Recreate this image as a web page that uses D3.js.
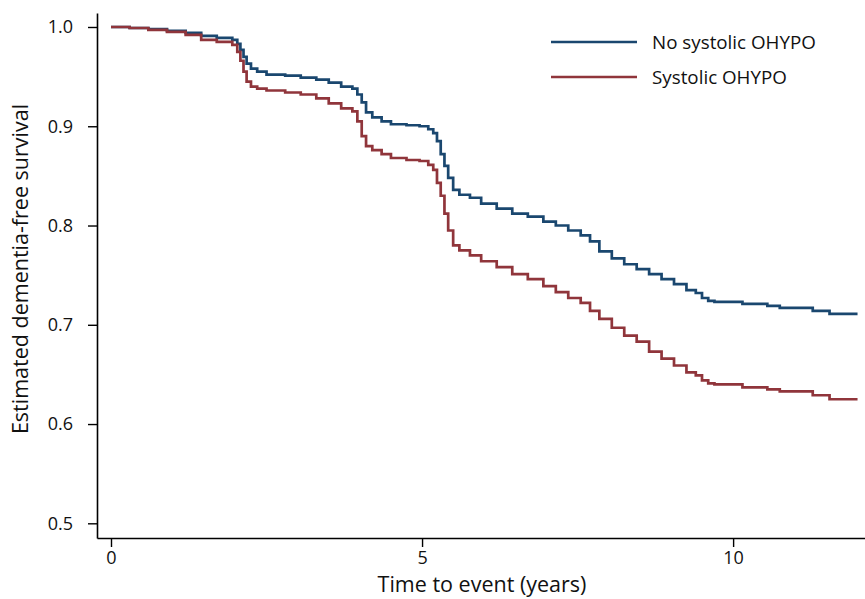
<!DOCTYPE html>
<html>
<head>
<meta charset="utf-8">
<script src="https://cdn.jsdelivr.net/npm/d3@7"></script>
<style>
  body { margin: 0; background: #fff; }
  svg { display: block; font-family: "Open Sans", "Noto Sans", sans-serif; }
</style>
</head>
<body>
<svg id="chart"></svg>
<script>
// Kaplan-Meier curves, dementia-free survival by systolic OHYPO
const width = 865;
const height = 599;

const seriesNames = ["No systolic OHYPO", "Systolic OHYPO"];
const seriesColors = ["#1a476f", "#90353b"];

// time (years) at each step, shared by both curves
const stepTimes = [
    0, 0.3, 0.6, 0.9, 1.2, 1.45, 1.7, 1.95, 2.03, 2.08,
    2.13, 2.18, 2.25, 2.35, 2.5, 2.8, 3.05, 3.3, 3.5, 3.7,
    3.88, 3.96, 4.03, 4.1, 4.2, 4.35, 4.5, 4.75, 4.96, 5.1,
    5.18, 5.24, 5.3, 5.36, 5.42, 5.5, 5.6, 5.77, 5.95, 6.2,
    6.45, 6.7, 6.95, 7.15, 7.35, 7.55, 7.7, 7.85, 8.05, 8.25,
    8.45, 8.65, 8.85, 9.05, 9.25, 9.4, 9.5, 9.6, 9.7, 10.15,
    10.55, 10.75, 11.28, 11.55, 12.0
];

const noOhypoSurvival = [
    1.000, 0.999, 0.998, 0.996, 0.994, 0.991, 0.989, 0.987, 0.983, 0.977,
    0.970, 0.963, 0.958, 0.955, 0.952, 0.951, 0.949, 0.947, 0.944, 0.940,
    0.938, 0.932, 0.924, 0.914, 0.909, 0.905, 0.902, 0.901, 0.900, 0.897,
    0.893, 0.885, 0.872, 0.860, 0.848, 0.836, 0.831, 0.828, 0.822, 0.817,
    0.812, 0.809, 0.804, 0.800, 0.795, 0.790, 0.784, 0.774, 0.767, 0.761,
    0.756, 0.751, 0.746, 0.741, 0.735, 0.732, 0.727, 0.724, 0.723, 0.721,
    0.719, 0.717, 0.714, 0.711, 0.711
];

const ohypoSurvival = [
    1.000, 0.999, 0.997, 0.995, 0.992, 0.987, 0.985, 0.982, 0.975, 0.966,
    0.955, 0.945, 0.940, 0.938, 0.936, 0.934, 0.932, 0.928, 0.923, 0.918,
    0.915, 0.905, 0.890, 0.880, 0.876, 0.872, 0.868, 0.866, 0.865, 0.861,
    0.856, 0.843, 0.830, 0.812, 0.795, 0.780, 0.775, 0.770, 0.764, 0.758,
    0.751, 0.746, 0.739, 0.733, 0.727, 0.722, 0.714, 0.706, 0.697, 0.689,
    0.683, 0.673, 0.666, 0.659, 0.652, 0.649, 0.644, 0.641, 0.640, 0.637,
    0.635, 0.633, 0.629, 0.625, 0.625
];

const xTicks = [0, 5, 10];
const yTicks = [0.5, 0.6, 0.7, 0.8, 0.9, 1.0];

const svg = d3.select("#chart")
    .attr("width", width)
    .attr("height", height);

const x = d3.scaleLinear().domain([-0.225, 12.12]).range([97, 865]);
const y = d3.scaleLinear().domain([0.4852, 1.0141]).range([538, 13]);

// axes
const xAxis = svg.append("g")
    .attr("transform", "translate(0,538)")
    .call(d3.axisBottom(x).tickValues(xTicks).tickFormat(d3.format("d")).tickSize(9).tickSizeOuter(0));

const yAxis = svg.append("g")
    .attr("transform", "translate(97,0)")
    .call(d3.axisLeft(y).tickValues(yTicks).tickFormat(d3.format(".1f")).tickSize(9).tickSizeOuter(0));

[xAxis, yAxis].forEach(function(g) {
    g.select(".domain").attr("stroke", "#000").attr("stroke-width", 1.6);
    g.selectAll(".tick line").attr("stroke", "#000").attr("stroke-width", 1.4);
    g.selectAll(".tick text")
        .attr("fill", "#111")
        .style("font-size", "18px")
        .style("font-family", "'Open Sans', 'Noto Sans', sans-serif");
});
xAxis.selectAll(".tick text").attr("dy", "0.8em");
yAxis.selectAll(".tick text").attr("x", -24);

// axis titles
svg.append("text")
    .attr("x", 482)
    .attr("y", 592)
    .attr("text-anchor", "middle")
    .attr("fill", "#111")
    .style("font-size", "21.5px")
    .text("Time to event (years)");

svg.append("text")
    .attr("transform", "translate(28,269) rotate(-90)")
    .attr("text-anchor", "middle")
    .attr("fill", "#111")
    .style("font-size", "21.5px")
    .text("Estimated dementia-free survival");

// survival curves
const line = d3.line()
    .x(d => x(d[0]))
    .y(d => y(d[1]))
    .curve(d3.curveStepAfter);

const curves = [noOhypoSurvival, ohypoSurvival];
curves.forEach(function(vals, i) {
    const pts = stepTimes.map((t, j) => [t, vals[j]]);
    svg.append("path")
        .datum(pts)
        .attr("fill", "none")
        .attr("stroke", seriesColors[i])
        .attr("stroke-width", 2.7)
        .attr("d", line);
});

// legend
const legend = svg.append("g").attr("transform", "translate(551,42)");
seriesNames.forEach(function(name, i) {
    const row = legend.append("g").attr("transform", "translate(0," + (i * 35) + ")");
    row.append("line")
        .attr("x1", 0).attr("x2", 86)
        .attr("stroke", seriesColors[i])
        .attr("stroke-width", 2.7);
    row.append("text")
        .attr("x", 101)
        .attr("dy", "0.35em")
        .attr("fill", "#111")
        .style("font-size", "18.8px")
        .text(name);
});
</script>
</body>
</html>
